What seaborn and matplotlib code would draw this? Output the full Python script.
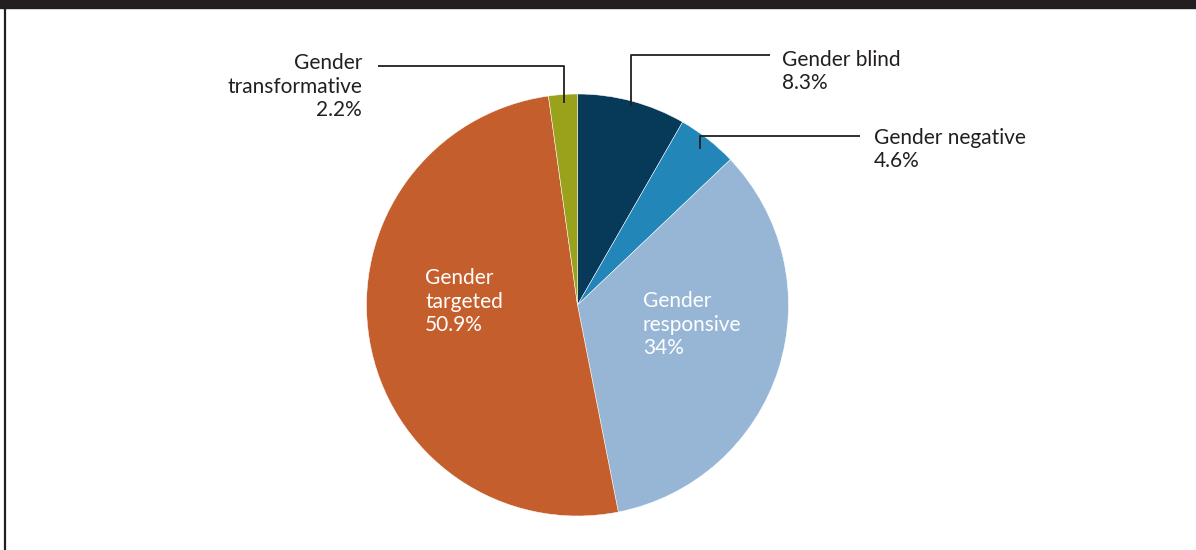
import numpy as np
import matplotlib
matplotlib.use("Agg")
import matplotlib.pyplot as plt
import seaborn as sns
from matplotlib.lines import Line2D
from matplotlib.patches import Rectangle

sns.set_theme(style="white")
plt.rcParams["font.family"] = ["Lato", "DejaVu Sans"]

# Share of projects by gender category
categories = ["Gender blind", "Gender negative", "Gender responsive",
              "Gender targeted", "Gender transformative"]
shares = [8.3, 4.6, 34.0, 50.9, 2.2]
value_labels = ["8.3%", "4.6%", "34%", "50.9%", "2.2%"]
colors = ["#063a58", "#2386b8", "#97b6d6", "#c55e2d", "#9aa11a"]

W, H = 1196, 550
fig = plt.figure(figsize=(W / 100, H / 100), dpi=100)

# pie axes: centre (577, 305) px, radius 211 px
cx, cy, r = 577.5, 305, 211
ax = fig.add_axes([(cx - r) / W, (H - cy - r) / H, 2 * r / W, 2 * r / H])
wedges, _ = ax.pie(shares, colors=colors, startangle=90, counterclock=False,
                   radius=1, wedgeprops=dict(edgecolor="white", linewidth=0.35))
ax.set_xlim(-1, 1)
ax.set_ylim(-1, 1)
ax.set_aspect("equal")
ax.axis("off")

def px(x, y):
    """figure pixel (from top-left) -> data coords of the pie axes"""
    return (x - cx) / r, (cy - y) / r

fs = 15
lsp = 1.21
lc = "#231f20"

def mid_point(w, frac):
    ang = np.deg2rad((w.theta1 + w.theta2) / 2)
    return frac * np.cos(ang), frac * np.sin(ang)

# outside labels with elbow leader lines (ly: line height, by: last baseline)
outside = {
    0: dict(frac=0.975, ly=55, lx=770, tx=782, by=89, ha="left"),
    1: dict(frac=0.94, ly=136, lx=860, tx=874, by=167, ha="left"),
    4: dict(frac=0.96, ly=66, lx=378, tx=362, by=116, ha="right"),
}
for i, o in outside.items():
    x0, y0 = mid_point(wedges[i], o["frac"])
    _, yl = px(0, o["ly"])
    xe, _ = px(o["lx"], 0)
    ax.plot([x0, x0, xe], [y0, yl, yl], color=lc, lw=1.3,
            solid_capstyle="butt", clip_on=False)
    name = categories[i]
    if i == 4:
        name = name.replace(" ", "\n")
    xt, yt = px(o["tx"], o["by"])
    ax.text(xt, yt, f"{name}\n{value_labels[i]}", ha=o["ha"], va="baseline",
            fontsize=fs, color=lc, linespacing=lsp, multialignment=o["ha"])

# inside labels (left edge, last baseline)
inside = {3: (425, 331), 2: (643, 354)}
for i, (x, y) in inside.items():
    xt, yt = px(x, y)
    name = categories[i].replace(" ", "\n")
    ax.text(xt, yt, f"{name}\n{value_labels[i]}", ha="left", va="baseline",
            fontsize=fs, color="white", linespacing=lsp)

# frame: dark band on top, rule on the left
fig.patches.append(Rectangle((0, 1 - 8 / H), 1, 8 / H, transform=fig.transFigure,
                             color=lc, zorder=10))
fig.lines.append(Line2D([5 / W, 5 / W], [0, 1], transform=fig.transFigure,
                        color=lc, lw=1.6))

fig.savefig("out.png", dpi=100, facecolor="white")
